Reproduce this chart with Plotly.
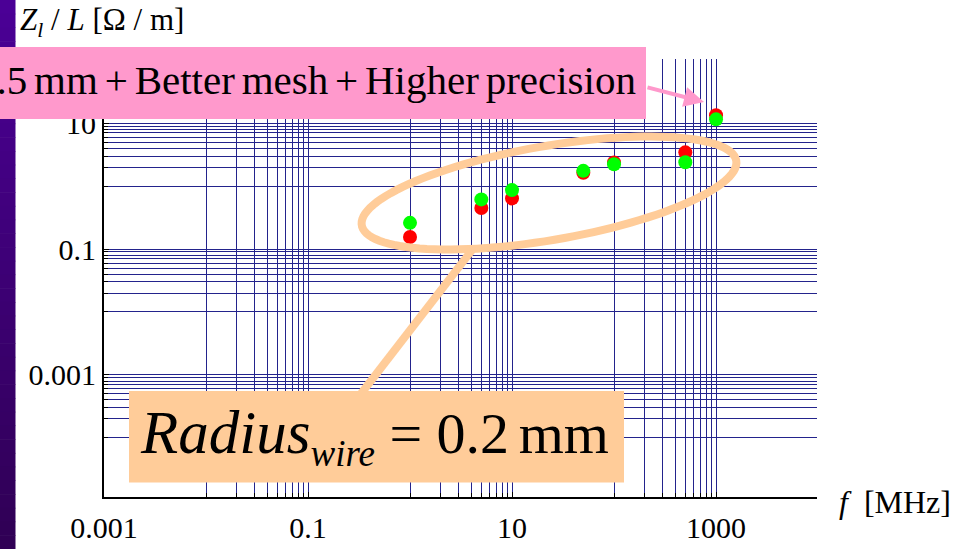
import numpy as np
import plotly.graph_objects as go

# ---------------- data ----------------
freq_mhz = [1, 5, 10, 50, 100, 500, 1000]
z_red = [0.155, 0.448, 0.638, 1.63, 2.38, 3.44, 13.4]
z_green = [0.261, 0.615, 0.865, 1.75, 2.23, 2.40, 11.5]

x_tickvals = [0.001, 0.1, 10, 1000]
x_ticktext = ["0.001", "0.1", "10", "1000"]
y_tickvals = [0.001, 0.1, 10]
y_ticktext = ["0.001", "0.1", "10"]

x_minor = [n * d for d in (0.01, 1, 100) for n in range(1, 10)]
y_minor = [n * d for d in (1e-4, 0.01, 1) for n in range(1, 10)]

# ---------------- layout geometry (pixels) ----------------
W, H = 965, 549
L, R, T, B = 104, 817, 59, 497
PW, PH = R - L, B - T


def px(x):
    return (x - L) / PW


def py(y):
    return (B - y) / PH


SERIF = "Liberation Serif, Times New Roman, serif"
GRID = "rgb(35,35,140)"
PEACH = "#FFCC99"
PINK = "#FF99CC"
SP = "\u2006"  # narrow space

fig = go.Figure()
fig.add_trace(go.Scatter(x=freq_mhz, y=z_red, mode="markers",
                         marker=dict(color="#FF0000", size=14, line=dict(width=0)),
                         showlegend=False))
fig.add_trace(go.Scatter(x=freq_mhz, y=z_green, mode="markers",
                         marker=dict(color="#00FF00", size=14, line=dict(width=0)),
                         showlegend=False))

shapes = []
# purple gradient strip at the left edge
nstrip = 40
for i in range(nstrip):
    f = i / (nstrip - 1)
    r = int(75 + (48 - 75) * f)
    b = int(150 + (85 - 150) * f)
    y0 = i * H / nstrip
    y1 = (i + 1) * H / nstrip + 0.6
    shapes.append(dict(type="rect", xref="paper", yref="paper",
                       x0=px(-1), x1=px(15.5), y0=py(y1), y1=py(y0),
                       fillcolor=f"rgb({r},0,{b})", line=dict(width=0), layer="above"))

# peach ellipse (rotated)
cx, cy, a, bb, th = 549, 193, 190, 47, np.deg2rad(-9.8)
t = np.linspace(0, 2 * np.pi, 120)
ex = cx + a * np.cos(th) * np.cos(t) - bb * np.sin(th) * np.sin(t)
ey = cy + a * np.sin(th) * np.cos(t) + bb * np.cos(th) * np.sin(t)
path = "M " + " L ".join(f"{px(xx):.5f},{py(yy):.5f}" for xx, yy in zip(ex, ey)) + " Z"
shapes.append(dict(type="path", xref="paper", yref="paper", path=path,
                   line=dict(color=PEACH, width=8), fillcolor="rgba(0,0,0,0)", layer="above"))
# tail from ellipse to radius box
shapes.append(dict(type="line", xref="paper", yref="paper",
                   x0=px(472), y0=py(250), x1=px(360), y1=py(395),
                   line=dict(color=PEACH, width=8), layer="above"))
# radius box
shapes.append(dict(type="rect", xref="paper", yref="paper",
                   x0=px(129), x1=px(624), y0=py(482.5), y1=py(391),
                   fillcolor=PEACH, line=dict(width=0), layer="above"))
# pink box
shapes.append(dict(type="rect", xref="paper", yref="paper",
                   x0=px(-2), x1=px(646), y0=py(119), y1=py(47),
                   fillcolor=PINK, line=dict(width=0), layer="above"))

pink_text = SP.join(["0.5", "mm", "+", "Better", "mesh", "+", "Higher", "precision"])
radius_text = ("<i>Radius</i><sub><i><span style='font-size:37px'>wire</span></i></sub>"
               "<span style='font-size:58px'> = 0.2" + SP + "mm</span>")

annotations = [
    # pink arrow
    dict(xref="paper", yref="paper", x=px(704), y=py(102), ax=646 - 704, ay=87 - 102,
         axref="pixel", ayref="pixel", text="", showarrow=True,
         arrowcolor=PINK, arrowwidth=4, arrowhead=2, arrowsize=1, standoff=0, startstandoff=0),
    # pink box text
    dict(xref="paper", yref="paper", x=px(638), y=py(80), xanchor="right", yanchor="middle",
         text=pink_text, showarrow=False,
         font=dict(family=SERIF, size=41, color="black")),
    # radius text
    dict(xref="paper", yref="paper", x=px(138), y=py(436), xanchor="left", yanchor="middle",
         text=radius_text, showarrow=False, font=dict(family=SERIF, size=61, color="black")),
    # y axis title
    dict(xref="paper", yref="paper", x=px(18), y=py(22), xanchor="left", yanchor="middle",
         text="<i>Z</i><sub><i>l</i></sub> / <i>L</i> [Ω / m]", showarrow=False,
         font=dict(family=SERIF, size=31, color="black")),
    # x axis title
    dict(xref="paper", yref="paper", x=px(837), y=py(502), xanchor="left", yanchor="middle",
         text="<i>f</i>  [MHz]", showarrow=False,
         font=dict(family=SERIF, size=32, color="black")),
]

fig.update_layout(
    width=W, height=H,
    margin=dict(l=L, r=W - R, t=T, b=H - B, pad=0, autoexpand=False),
    paper_bgcolor="white", plot_bgcolor="white",
    shapes=shapes, annotations=annotations,
    showlegend=False,
)
fig.update_xaxes(type="log", range=[-3, 3.99], automargin=False,
                 tickmode="array", tickvals=x_tickvals, ticktext=x_ticktext,
                 tickfont=dict(family=SERIF, size=30, color="black"),
                 ticklabelstandoff=3,
                 showgrid=True, gridcolor=GRID, gridwidth=1,
                 ticks="inside", ticklen=5, tickcolor="black",
                 minor=dict(tickmode="array", tickvals=x_minor, showgrid=True,
                            gridcolor=GRID, gridwidth=1, ticks="inside", ticklen=4, tickcolor="black"),
                 showline=True, linecolor="black", linewidth=1.5, mirror=False, zeroline=False)
fig.update_yaxes(type="log", range=[-4.94, 2.02], automargin=False,
                 tickmode="array", tickvals=y_tickvals, ticktext=y_ticktext,
                 tickfont=dict(family=SERIF, size=30, color="black"),
                 showgrid=True, gridcolor=GRID, gridwidth=1,
                 ticks="inside", ticklen=5, tickcolor="black",
                 minor=dict(tickmode="array", tickvals=y_minor, showgrid=True,
                            gridcolor=GRID, gridwidth=1, ticks="inside", ticklen=4, tickcolor="black"),
                 showline=True, linecolor="black", linewidth=2, mirror=False, zeroline=False)

fig.write_html("out.html", config={"displayModeBar": False},
               post_script="document.body.style.margin='0';document.body.style.overflow='hidden';")
